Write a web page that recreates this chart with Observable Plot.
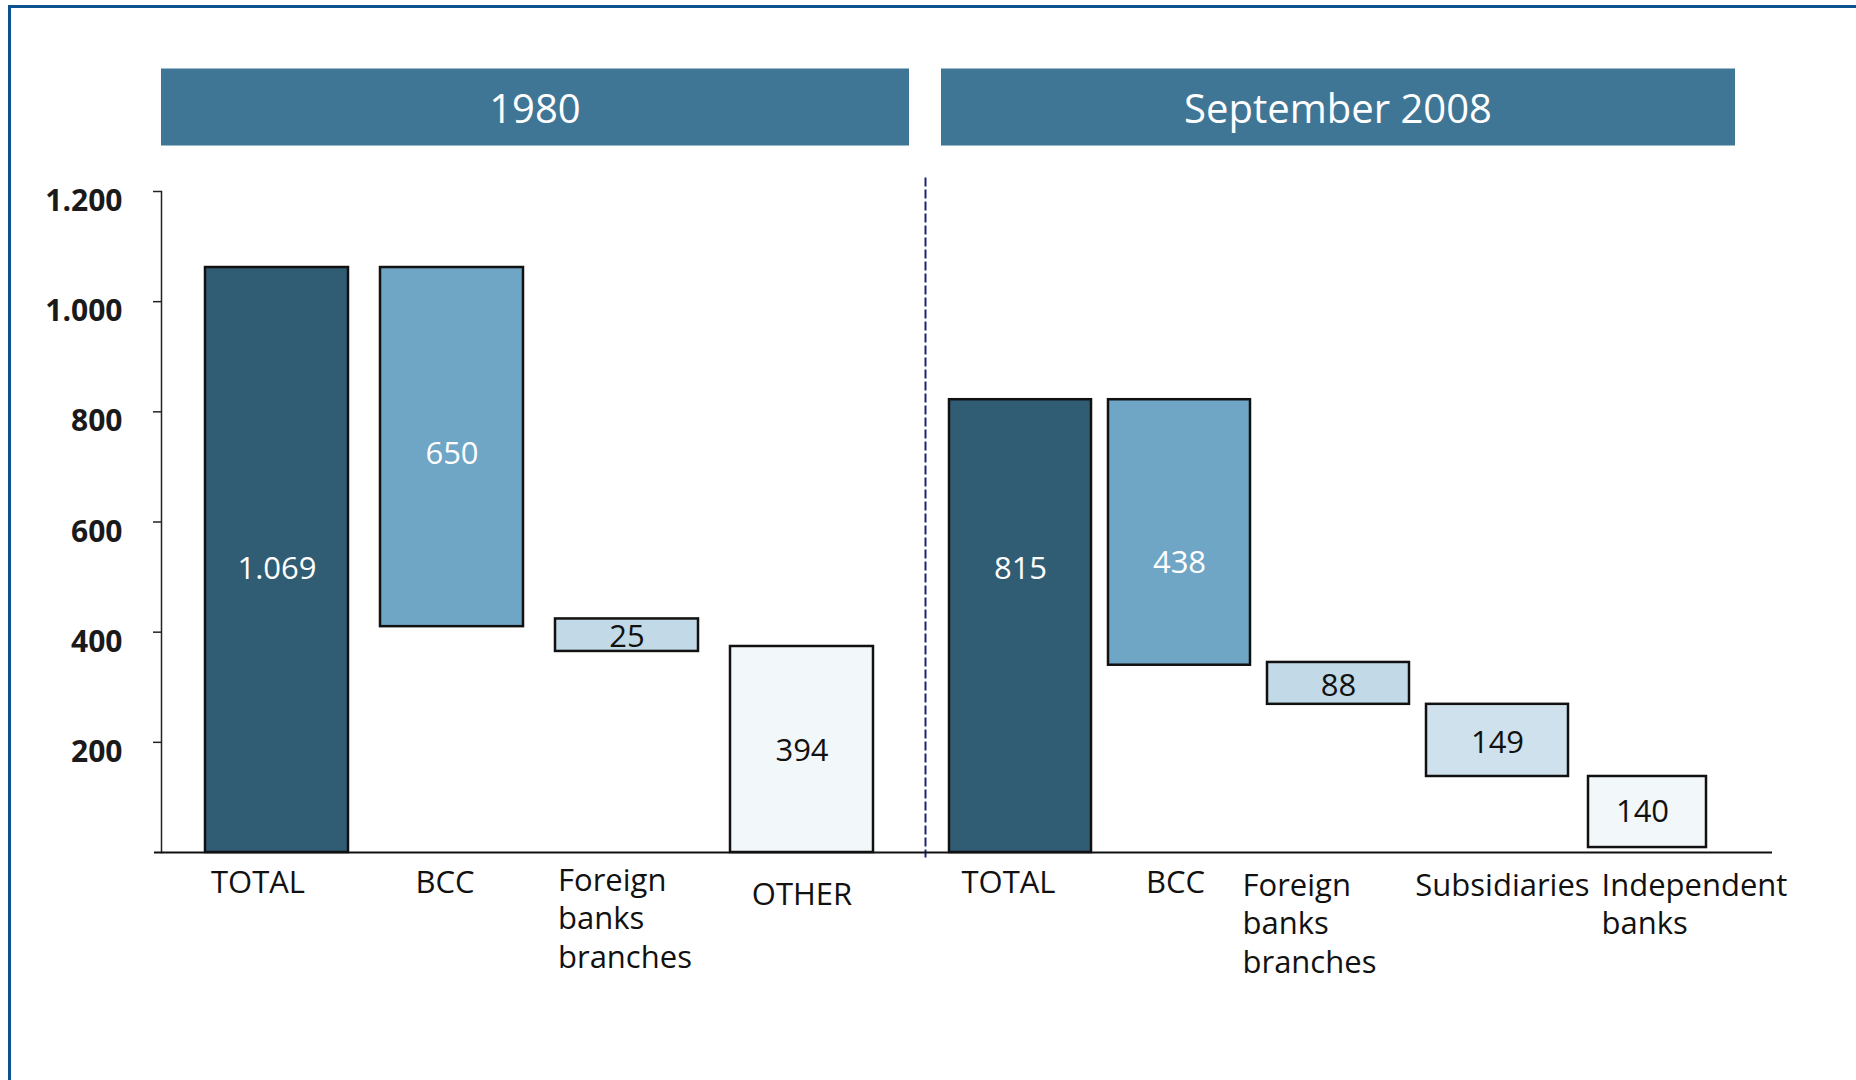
<!DOCTYPE html>
<html>
<head>
<meta charset="utf-8">
<script src="https://cdn.jsdelivr.net/npm/d3@7"></script>
<script src="https://cdn.jsdelivr.net/npm/@observablehq/plot@0.6"></script>
<style>
  html, body { margin: 0; padding: 0; background: #ffffff; }
  #wrap { position: relative; width: 1856px; height: 1080px; overflow: hidden; background: #fff; font-family: "Open Sans", sans-serif; }
  .edgeTop { position: absolute; left: 8px; top: 5px; right: 0; height: 3px; background: #0d5291; }
  .edgeLeft { position: absolute; left: 8px; top: 5px; bottom: 0; width: 3px; background: #0d5291; }
  .hdr { position: absolute; top: 68px; height: 76px; background: #3f7696; border-top: 1px solid #9dbacb; border-bottom: 1px solid #9dbacb;
         color: #fff; font-size: 40px; font-weight: 500; display: flex; align-items: center; justify-content: center; }
  .panel { position: absolute; top: 0; }
</style>
</head>
<body>
<div id="wrap">
  <div class="edgeTop"></div>
  <div class="edgeLeft"></div>
  <div id="h0" class="hdr" style="left:161px;width:748px;"></div>
  <div id="h1" class="hdr" style="left:941px;width:794px;"></div>
  <div id="left" class="panel" style="left:0px;"></div>
  <div id="right" class="panel" style="left:915px;"></div>
</div>
<script>
// ---- data ----
const panelTitles = ["1980", "September 2008"];

const cats1980   = ["TOTAL", "BCC", "Foreign\nbanks\nbranches", "OTHER"];
const values1980 = [1069, 650, 25, 394];          // printed labels
const low1980    = [0, 410, 365, 0];              // drawn box bottoms
const high1980   = [1062, 1062, 424, 374];        // drawn box tops
const kind1980   = ["total", "bcc", "foreign", "other"];

const cats2008   = ["TOTAL", "BCC", "Foreign\nbanks\nbranches", "Subsidiaries", "Independent\nbanks"];
const values2008 = [815, 438, 88, 149, 140];
const low2008    = [0, 340, 269, 138, 9];
const high2008   = [822, 822, 345, 269, 138];
const kind2008   = ["total", "bcc", "foreign", "subsidiaries", "independent"];

const yTicks = [200, 400, 600, 800, 1000, 1200];

// ---- build tables ----
const rows = (cats, vals, lo, hi, kinds) =>
  cats.map((c, i) => ({cat: c, value: vals[i], low: lo[i], high: hi[i], kind: kinds[i], i}));
const data1980 = rows(cats1980, values1980, low1980, high1980, kind1980);
const data2008 = rows(cats2008, values2008, low2008, high2008, kind2008);

const fmt = d3.formatLocale({decimal: ",", thousands: ".", grouping: [3], currency: ["", ""]}).format(",d");

const colorScale = {
  domain: ["total", "bcc", "foreign", "subsidiaries", "other", "independent"],
  range:  ["#305c74", "#6fa5c5", "#c2d9e7", "#cfe1ec", "#f2f7fa", "#f2f7fa"]
};
const font = "'Open Sans', sans-serif";
const H = 1080, MT = 191, MB = 228;
const barStyle = {stroke: "#111", strokeWidth: 2.5};
const valText = {fontSize: 31, fontWeight: 500, lineAnchor: "middle"};
const catText = {frameAnchor: "bottom", lineAnchor: "top", fontSize: 31, fontWeight: 500, lineHeight: 1.24, fill: "#111"};
const mid = d => (d.low + d.high) / 2;
const valLabel = (rows, fill, extra) =>
  Plot.text(rows, {x: "cat", y: mid, text: d => fmt(d.value), fill, ...valText, ...extra});

document.getElementById("h0").textContent = panelTitles[0];
document.getElementById("h1").textContent = panelTitles[1];

// ---- left panel (1980) ----
const left = Plot.plot({
  width: 925, height: H,
  marginLeft: 161, marginRight: 8.5, marginTop: MT, marginBottom: MB,
  style: {fontFamily: font, overflow: "visible", maxWidth: "none", background: "transparent"},
  x: {domain: cats1980, paddingInner: 0.185, paddingOuter: 0.245, axis: null},
  y: {domain: [0, 1200], axis: null},
  color: colorScale,
  marks: [
    Plot.frame({anchor: "left", stroke: "#222", strokeWidth: 1.5}),
    Plot.axisY(yTicks, {anchor: "left", tickSize: 8, tickFormat: () => "", stroke: "#222", strokeWidth: 1.5, strokeOpacity: 1}),
    Plot.text(yTicks, {y: d => d, text: d => fmt(d), frameAnchor: "left", textAnchor: "end", dx: -39, dy: 10, fontSize: 30, fontWeight: 700, fill: "#1a1a1a"}),
    Plot.ruleY([0], {stroke: "#111", strokeWidth: 2, insetLeft: -7, insetRight: -8.5}),
    Plot.barY(data1980, {x: "cat", y1: "low", y2: "high", fill: "kind", ...barStyle}),
    valLabel(data1980.filter(d => d.i === 0), "#fff", {dy: 9}),
    valLabel(data1980.filter(d => d.i === 1), "#fff", {dy: 7}),
    valLabel(data1980.filter(d => d.i >= 2), "#111", {dy: 2}),
    Plot.text(data1980.filter(d => d.i === 0), {x: "cat", text: "cat", dx: -19, dy: 13, ...catText}),
    Plot.text(data1980.filter(d => d.i === 1), {x: "cat", text: "cat", dx: -7, dy: 13, ...catText}),
    Plot.text(data1980.filter(d => d.i === 2), {x: "cat", text: "cat", dx: -69, dy: 11, textAnchor: "start", ...catText}),
    Plot.text(data1980.filter(d => d.i === 3), {x: "cat", text: "cat", dx: 0, dy: 25, ...catText})
  ]
});
document.getElementById("left").appendChild(left);

// ---- right panel (September 2008) ----
const right = Plot.plot({
  width: 941, height: H,
  marginLeft: 10, marginRight: 105.3, marginTop: MT, marginBottom: MB,
  style: {fontFamily: font, overflow: "visible", maxWidth: "none", background: "transparent"},
  x: {domain: cats2008, paddingInner: 0.107, paddingOuter: 0.15, axis: null},
  y: {domain: [0, 1200], axis: null},
  color: colorScale,
  marks: [
    Plot.frame({anchor: "left", stroke: "#1c2470", strokeWidth: 2, strokeDasharray: "7,5", insetTop: -13, insetBottom: -4}),
    Plot.ruleY([0], {stroke: "#111", strokeWidth: 2, insetLeft: 0, insetRight: -21.3}),
    Plot.barY(data2008.filter(d => d.i < 4), {x: "cat", y1: "low", y2: "high", fill: "kind", ...barStyle}),
    Plot.barY(data2008.filter(d => d.i === 4), {x: "cat", y1: "low", y2: "high", fill: "kind", insetLeft: 3, insetRight: 21, ...barStyle}),
    valLabel(data2008.filter(d => d.i === 0), "#fff", {dy: -57}),
    valLabel(data2008.filter(d => d.i === 1), "#fff", {dy: 31}),
    valLabel(data2008.filter(d => d.i === 2 || d.i === 3), "#111", {dy: 3}),
    valLabel(data2008.filter(d => d.i === 4), "#111", {dx: -14, dy: 0}),
    Plot.text(data2008.filter(d => d.i === 0), {x: "cat", text: "cat", dx: -12, dy: 13, ...catText}),
    Plot.text(data2008.filter(d => d.i === 1), {x: "cat", text: "cat", dx: -4, dy: 13, ...catText}),
    Plot.text(data2008.filter(d => d.i === 2), {x: "cat", text: "cat", dx: -96, dy: 16, textAnchor: "start", ...catText}),
    Plot.text(data2008.filter(d => d.i === 3), {x: "cat", text: "cat", dx: 5, dy: 16, ...catText}),
    Plot.text(data2008.filter(d => d.i === 4), {x: "cat", text: "cat", dx: -55, dy: 16, textAnchor: "start", ...catText})
  ]
});
document.getElementById("right").appendChild(right);
</script>
</body>
</html>
